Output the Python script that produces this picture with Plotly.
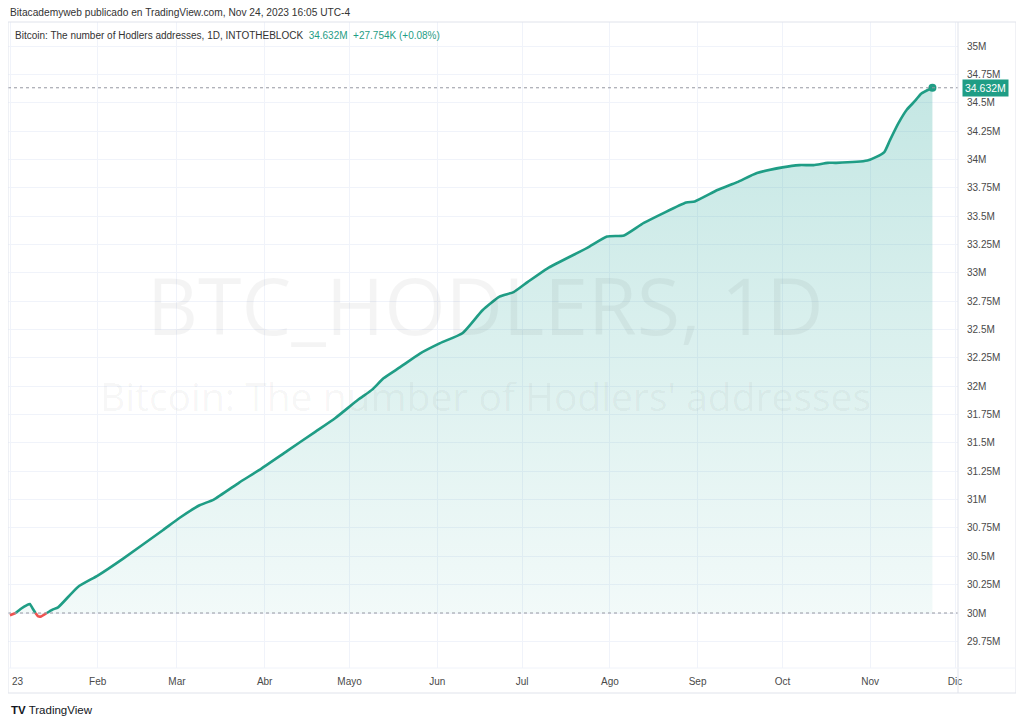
import plotly.graph_objects as go

# daily Hodlers addresses (millions)
dates = ["2023-01-01", "2023-01-03", "2023-01-05", "2023-01-07", "2023-01-08", "2023-01-09",
         "2023-01-10", "2023-01-11", "2023-01-12", "2023-01-14", "2023-01-16", "2023-01-18",
         "2023-01-25", "2023-02-01", "2023-02-10", "2023-02-24", "2023-03-02", "2023-03-09",
         "2023-03-14", "2023-03-23", "2023-03-30", "2023-04-09", "2023-04-19", "2023-04-26",
         "2023-05-04", "2023-05-09", "2023-05-13", "2023-05-19", "2023-05-26", "2023-06-02",
         "2023-06-10", "2023-06-17", "2023-06-23", "2023-06-28", "2023-07-03", "2023-07-10",
         "2023-07-24", "2023-07-31", "2023-08-06", "2023-08-13", "2023-08-28", "2023-08-31",
         "2023-09-08", "2023-09-15", "2023-09-22", "2023-10-01", "2023-10-07", "2023-10-12",
         "2023-10-17", "2023-10-20", "2023-10-31", "2023-11-03", "2023-11-06", "2023-11-08",
         "2023-11-11", "2023-11-14", "2023-11-17", "2023-11-19", "2023-11-23"]
values = [29.98, 30.00, 30.04, 30.07, 30.08, 30.04,
          30.00, 29.97, 29.97, 30.00, 30.03, 30.05,
          30.23, 30.33, 30.48, 30.73, 30.84, 30.95,
          31.00, 31.15, 31.26, 31.43, 31.60, 31.72,
          31.88, 31.97, 32.07, 32.17, 32.29, 32.38,
          32.47, 32.67, 32.79, 32.83, 32.92, 33.04,
          33.22, 33.32, 33.33, 33.44, 33.62, 33.63,
          33.73, 33.80, 33.88, 33.93, 33.95, 33.95,
          33.97, 33.97, 33.99, 34.02, 34.065, 34.17,
          34.32, 34.44, 34.52, 34.58, 34.632]
baseline = 30.0

month_ticks = ["2023-01-01", "2023-02-01", "2023-03-01", "2023-04-01", "2023-05-01", "2023-06-01",
               "2023-07-01", "2023-08-01", "2023-09-01", "2023-10-01", "2023-11-01", "2023-12-01"]
month_labels = ["23", "Feb", "Mar", "Abr", "Mayo", "Jun", "Jul", "Ago",
                "Sep", "Oct", "Nov", "Dic"]

price_ticks = [29.75 + 0.25 * i for i in range(22)]
price_labels = [("%.2f" % v).rstrip("0").rstrip(".") + "M" for v in price_ticks]

GREEN = "#1f9d85"
RED = "#ef5350"
GRID = "#f0f3fa"
FONT = "Liberation Sans"

# plot area in page pixels: x 8..958, y 22..668 (page has an 8px body margin)
def px(x):
    return (x - 8) / 950

def py(y):
    return (668 - y) / 646

fig = go.Figure()

# baseline + gradient fill
fig.add_trace(go.Scatter(x=dates, y=[baseline] * len(dates), mode="lines",
                         line=dict(width=0), hoverinfo="skip", showlegend=False))
fig.add_trace(go.Scatter(x=dates, y=values, mode="lines", line=dict(width=0, shape="spline", smoothing=0.5),
                         fill="tonexty",
                         fillgradient=dict(type="vertical", start=baseline, stop=values[-1],
                                           colorscale=[[0, "rgba(38,166,154,0.06)"],
                                                       [1, "rgba(38,166,154,0.27)"]]),
                         hoverinfo="skip", showlegend=False))

# line split in red/green runs around the baseline
runs = []
for i in range(len(values) - 1):
    col = RED if min(values[i], values[i + 1]) < baseline else GREEN
    if runs and runs[-1][0] == col:
        runs[-1][1].append(i + 1)
    else:
        runs.append([col, [i, i + 1]])
for col, idx in runs:
    fig.add_trace(go.Scatter(x=[dates[k] for k in idx], y=[values[k] for k in idx],
                             mode="lines",
                             line=dict(color=col, width=2.6, shape="spline", smoothing=0.5),
                             showlegend=False))

fig.add_trace(go.Scatter(x=[dates[-1]], y=[values[-1]], mode="markers",
                         marker=dict(color=GREEN, size=8), showlegend=False))

shapes = [
    # baseline and last-price dotted lines
    dict(type="line", xref="paper", x0=0, x1=1, yref="y", y0=baseline, y1=baseline,
         line=dict(color="#9598a1", width=1, dash="dot")),
    dict(type="line", xref="paper", x0=0, x1=1, yref="y", y0=values[-1], y1=values[-1],
         line=dict(color="#9598a1", width=1, dash="dot")),
    # frame and axis separators
    dict(type="rect", xref="paper", yref="paper", x0=0, x1=px(1016), y0=py(693), y1=1,
         line=dict(color="#e0e3eb", width=1), layer="above"),
    dict(type="line", xref="paper", yref="paper", x0=1, x1=1, y0=py(693), y1=1,
         line=dict(color="#e0e3eb", width=1)),
    dict(type="line", xref="paper", yref="paper", x0=0, x1=px(1016), y0=0, y1=0,
         line=dict(color="#f0f3fa", width=1)),
]

annotations = [
    dict(text="Bitacademyweb publicado en TradingView.com, Nov 24, 2023 16:05 UTC-4",
         xref="paper", yref="paper", x=px(8), y=py(12), xanchor="left", yanchor="middle",
         showarrow=False, font=dict(family=FONT, size=10.2, color="#333")),
    dict(text="Bitcoin: The number of Hodlers addresses, 1D, INTOTHEBLOCK  "
              f"<span style='color:{GREEN}'>34.632M  +27.754K (+0.08%)</span>",
         xref="paper", yref="paper", x=px(13), y=py(35), xanchor="left", yanchor="middle",
         showarrow=False, font=dict(family=FONT, size=10, color="#333")),
    # watermark
    dict(text="BTC_HODLERS, 1D", xref="paper", yref="paper", x=px(485), y=py(305),
         xanchor="center", yanchor="middle", showarrow=False,
         font=dict(family="Open Sans", size=79, color="rgba(0,0,0,0.045)")),
    dict(text="Bitcoin: The number of Hodlers' addresses", xref="paper", yref="paper",
         x=px(485), y=py(395), xanchor="center", yanchor="middle", showarrow=False,
         font=dict(family="Open Sans", size=39, color="rgba(0,0,0,0.045)")),
    # last price label
    dict(text="34.632M", xref="paper", yref="y", x=px(962), y=values[-1],
         xanchor="left", yanchor="middle", showarrow=False, bgcolor=GREEN,
         borderpad=2, font=dict(family=FONT, size=10.5, color="white")),
    # year label, left-aligned at the first tick as on TradingView
    dict(text=month_labels[0], xref="x", yref="paper", x=month_ticks[0], y=py(681),
         xanchor="left", yanchor="middle", showarrow=False,
         font=dict(family=FONT, size=10, color="#4a4a4a")),
    # footer
    dict(text="<b>TV</b> TradingView", xref="paper", yref="paper", x=px(9), y=py(710),
         xanchor="left", yanchor="middle", showarrow=False,
         font=dict(family=FONT, size=11.5, color="#131722")),
]

fig.update_layout(
    width=1016, height=716,
    margin=dict(l=0, r=66, t=14, b=56, autoexpand=False),
    paper_bgcolor="white", plot_bgcolor="white",
    showlegend=False,
    shapes=shapes, annotations=annotations,
    xaxis=dict(type="date", range=["2022-12-31 07:00", "2023-12-02 01:00"],
               tickvals=month_ticks, ticktext=[""] + month_labels[1:], automargin=False,
               showgrid=True, gridcolor=GRID, gridwidth=1, zeroline=False,
               showline=False, ticks="", ticklabelstandoff=6,
               tickfont=dict(family=FONT, size=10, color="#4a4a4a")),
    yaxis=dict(side="right", range=[29.515, 35.212], automargin=False,
               tickvals=price_ticks, ticktext=price_labels,
               showgrid=True, gridcolor=GRID, gridwidth=1, zeroline=False,
               showline=False, ticks="", ticklabelstandoff=8,
               tickfont=dict(family=FONT, size=10, color="#4a4a4a")),
)

fig.write_html("out.html")
